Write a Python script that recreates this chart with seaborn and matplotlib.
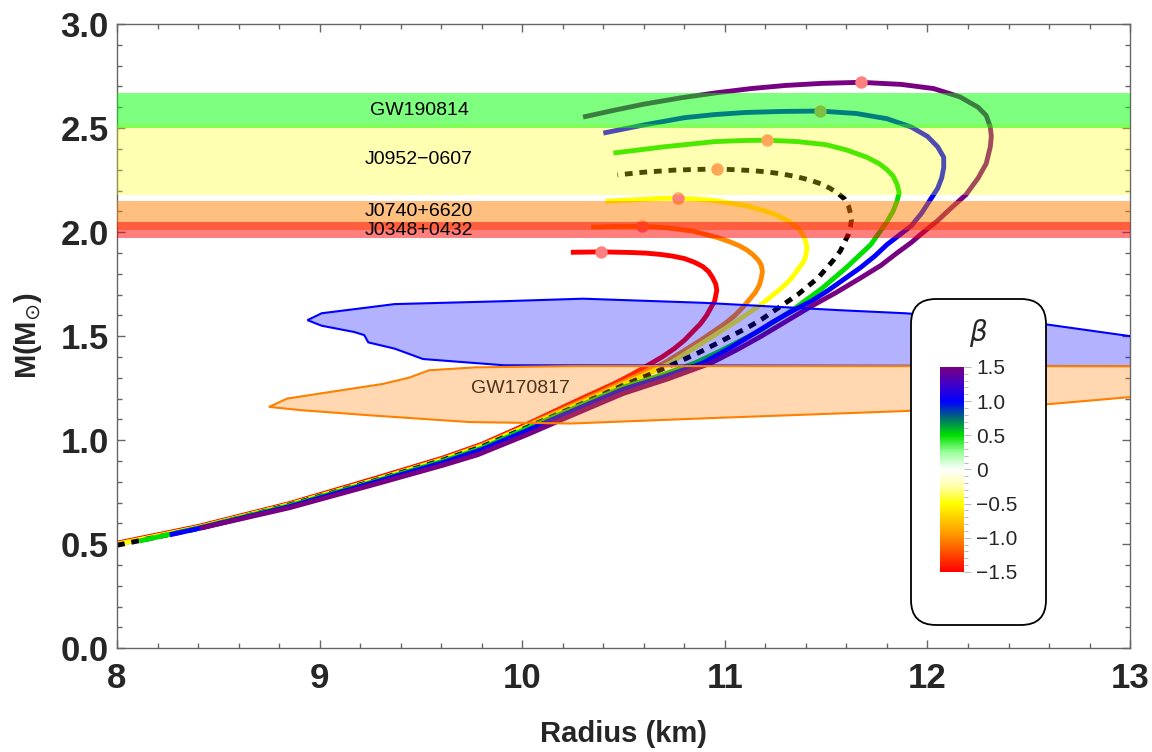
import numpy as np
import pandas as pd
import seaborn as sns
import matplotlib.pyplot as plt
from matplotlib.colors import LinearSegmentedColormap, Normalize
from matplotlib.cm import ScalarMappable
from matplotlib.patches import FancyBboxPatch
from matplotlib.ticker import MultipleLocator

# mass-radius curves, one per beta value
beta_values = [-1.5, -1.0, -0.5, 0.0, 0.5, 1.0, 1.5]

radius_m15 = [8.00, 8.40, 8.85, 9.28, 9.61, 9.80, 10.02, 10.27, 10.45, 10.54, 10.62, 10.69,
              10.75, 10.80, 10.84, 10.88, 10.91, 10.93, 10.95, 10.96, 10.955, 10.94, 10.92,
              10.89, 10.85, 10.80, 10.74, 10.68, 10.61, 10.54, 10.39, 10.24]
mass_m15 = [0.505, 0.585, 0.695, 0.818, 0.915, 0.98, 1.075, 1.19, 1.27, 1.315, 1.36, 1.40,
            1.44, 1.48, 1.52, 1.56, 1.60, 1.635, 1.67, 1.72, 1.75, 1.78, 1.81,
            1.835, 1.855, 1.873, 1.885, 1.893, 1.899, 1.902, 1.905, 1.903]

radius_m10 = [8.00, 8.40, 8.85, 9.28, 9.61, 9.80, 10.02, 10.27, 10.50, 10.60, 10.70, 10.79,
              10.88, 10.94, 11.00, 11.05, 11.09, 11.12, 11.15, 11.17, 11.18, 11.185, 11.18,
              11.165, 11.14, 11.11, 11.07, 11.02, 10.96, 10.90, 10.84, 10.78, 10.72, 10.65,
              10.59, 10.45, 10.34]
mass_m10 = [0.50, 0.58, 0.69, 0.812, 0.91, 0.975, 1.068, 1.178, 1.28, 1.325, 1.37, 1.425,
            1.48, 1.52, 1.56, 1.60, 1.64, 1.675, 1.71, 1.745, 1.78, 1.81, 1.84,
            1.865, 1.89, 1.913, 1.935, 1.955, 1.975, 1.99, 2.005, 2.013, 2.02, 2.025,
            2.028, 2.027, 2.024]

radius_m05 = [8.00, 8.40, 8.85, 9.28, 9.61, 9.80, 10.02, 10.27, 10.50, 10.62, 10.73, 10.82,
              10.91, 10.99, 11.07, 11.13, 11.19, 11.24, 11.29, 11.33, 11.36, 11.39, 11.40,
              11.405, 11.40, 11.39, 11.37, 11.34, 11.31, 11.27, 11.22, 11.16, 11.10, 11.02,
              10.95, 10.86, 10.77, 10.68, 10.60, 10.50, 10.41]
mass_m05 = [0.50, 0.58, 0.69, 0.81, 0.907, 0.97, 1.065, 1.17, 1.27, 1.32, 1.37, 1.425,
            1.48, 1.53, 1.58, 1.62, 1.66, 1.70, 1.74, 1.78, 1.82, 1.86, 1.89,
            1.925, 1.95, 1.98, 2.01, 2.035, 2.055, 2.075, 2.095, 2.112, 2.128, 2.14,
            2.152, 2.159, 2.163, 2.162, 2.158, 2.153, 2.148]

radius_00 = [8.00, 8.40, 8.85, 9.28, 9.61, 9.80, 10.02, 10.27, 10.50, 10.64, 10.78, 10.87,
             10.95, 11.03, 11.11, 11.18, 11.24, 11.30, 11.36, 11.41, 11.46, 11.50, 11.54,
             11.57, 11.59, 11.61, 11.62, 11.625, 11.62, 11.61, 11.59, 11.56, 11.52, 11.48,
             11.42, 11.36, 11.28, 11.21, 11.13, 11.05, 10.96, 10.85, 10.75, 10.60, 10.47]
mass_00 = [0.495, 0.575, 0.688, 0.808, 0.905, 0.968, 1.06, 1.165, 1.265, 1.32, 1.38, 1.42,
           1.46, 1.50, 1.54, 1.58, 1.62, 1.66, 1.70, 1.74, 1.78, 1.825, 1.87,
           1.91, 1.95, 1.99, 2.03, 2.06, 2.09, 2.125, 2.16, 2.185, 2.21, 2.23,
           2.25, 2.265, 2.28, 2.289, 2.296, 2.30, 2.303, 2.301, 2.298, 2.288, 2.275]

radius_p05 = [8.11, 8.40, 8.85, 9.28, 9.61, 9.80, 10.02, 10.27, 10.50, 10.68, 10.85, 10.98,
              11.08, 11.18, 11.26, 11.34, 11.41, 11.48, 11.54, 11.60, 11.66, 11.72, 11.76,
              11.80, 11.83, 11.85, 11.86, 11.85, 11.83, 11.80, 11.76, 11.70, 11.60, 11.50,
              11.36, 11.21, 11.08, 10.95, 10.70, 10.45]
mass_p05 = [0.515, 0.578, 0.685, 0.805, 0.90, 0.962, 1.055, 1.16, 1.255, 1.31, 1.37, 1.43,
            1.48, 1.53, 1.58, 1.63, 1.68, 1.73, 1.78, 1.83, 1.885, 1.94, 1.995,
            2.05, 2.10, 2.15, 2.19, 2.23, 2.27, 2.30, 2.33, 2.36, 2.395, 2.42,
            2.435, 2.442, 2.44, 2.435, 2.41, 2.38]

radius_p10 = [8.26, 8.40, 8.85, 9.28, 9.61, 9.80, 10.02, 10.27, 10.50, 10.70, 10.89, 11.02,
              11.14, 11.24, 11.34, 11.43, 11.51, 11.59, 11.67, 11.74, 11.80, 11.86, 11.92,
              11.97, 12.01, 12.05, 12.07, 12.08, 12.08, 12.05, 12.00, 11.92, 11.80, 11.65,
              11.47, 11.28, 11.10, 10.95, 10.80, 10.60, 10.40]
mass_p10 = [0.545, 0.575, 0.68, 0.80, 0.893, 0.955, 1.045, 1.15, 1.245, 1.305, 1.37, 1.44,
            1.51, 1.57, 1.625, 1.67, 1.72, 1.775, 1.83, 1.885, 1.94, 1.985, 2.03,
            2.09, 2.15, 2.21, 2.26, 2.31, 2.36, 2.41, 2.46, 2.505, 2.545, 2.57,
            2.582, 2.58, 2.575, 2.565, 2.55, 2.515, 2.476]

radius_p15 = [8.41, 8.85, 9.28, 9.61, 9.78, 10.02, 10.27, 10.50, 10.72, 10.93, 11.06, 11.18,
              11.30, 11.42, 11.55, 11.67, 11.77, 11.85, 11.92, 11.98, 12.05, 12.11, 12.19,
              12.25, 12.29, 12.31, 12.315, 12.31, 12.29, 12.25, 12.16, 12.03, 11.87, 11.67,
              11.48, 11.30, 11.13, 10.96, 10.78, 10.60, 10.45, 10.30]
mass_p15 = [0.577, 0.675, 0.79, 0.88, 0.93, 1.025, 1.13, 1.225, 1.295, 1.37, 1.435, 1.50,
            1.57, 1.64, 1.71, 1.78, 1.84, 1.90, 1.95, 2.00, 2.055, 2.11, 2.18,
            2.26, 2.33, 2.41, 2.46, 2.505, 2.56, 2.60, 2.65, 2.69, 2.71, 2.72,
            2.715, 2.705, 2.69, 2.67, 2.645, 2.615, 2.585, 2.553]

curve_radius = [radius_m15, radius_m10, radius_m05, radius_00, radius_p05, radius_p10, radius_p15]
curve_mass = [mass_m15, mass_m10, mass_m05, mass_00, mass_p05, mass_p10, mass_p15]

# maximum mass points
max_radius = [10.39, 10.59, 10.77, 10.96, 11.21, 11.47, 11.67]
max_mass = [1.905, 2.028, 2.163, 2.303, 2.442, 2.582, 2.72]

# observational mass bands
band_names = ['J0952\u22120607', 'GW190814', 'J0740+6620', 'J0348+0432']
band_low = [2.18, 2.50, 2.01, 1.97]
band_high = [2.52, 2.67, 2.15, 2.05]
band_label_mass = [2.35, 2.585, 2.10, 2.01]
band_colors = ['#ffff00', '#00ff00', '#ff8000', '#ff0000']
band_alpha = [0.3, 0.5, 0.5, 0.5]

# NICER-like region (blue) outline
nicer_radius = [8.94, 9.01, 9.37, 9.91, 10.30, 10.90, 11.56, 11.89, 12.56, 13.00, 13.30,
                13.30, 13.00, 9.91, 9.51, 9.37, 9.24, 9.22, 9.17, 9.01]
nicer_mass = [1.577, 1.61, 1.654, 1.668, 1.68, 1.66, 1.625, 1.61, 1.56, 1.50, 1.48,
              1.356, 1.356, 1.36, 1.39, 1.44, 1.47, 1.505, 1.52, 1.55]

# GW170817 region outline
gw170817_radius = [8.75, 8.84, 9.31, 9.44, 9.54, 9.77, 10.24, 13.00, 13.30, 13.30, 13.00,
                   12.56, 11.89, 10.90, 10.24, 9.74, 9.24, 8.91]
gw170817_mass = [1.16, 1.20, 1.27, 1.30, 1.336, 1.35, 1.356, 1.356, 1.356, 1.20, 1.207,
                 1.17, 1.14, 1.105, 1.08, 1.087, 1.12, 1.144]

# long table for seaborn
rows = []
for b, rr, mm in zip(beta_values, curve_radius, curve_mass):
    for i, (r, m) in enumerate(zip(rr, mm)):
        rows.append({'beta': b, 'order': i, 'R': r, 'M': m})
df = pd.DataFrame(rows)

sns.set_style('ticks')
plt.rcParams['font.family'] = ['Liberation Sans', 'DejaVu Sans']

cmap = LinearSegmentedColormap.from_list('beta', [
    (0.0, '#ff0000'), (1/6, '#ff8c00'), (2/6, '#ffff00'), (5/12, '#ffffaa'),
    (0.5, '#ffffff'), (7/12, '#99ff99'), (4/6, '#00e000'), (9/12, '#006e6e'),
    (5/6, '#0000ff'), (11/12, '#4000c8'), (1.0, '#780082')])
norm = Normalize(-1.5, 1.5)

fig = plt.figure(figsize=(11.52, 7.52), dpi=100)
ax = fig.add_axes([0.1016, 0.138, 0.8794, 0.830])

for b in beta_values:
    sub = df[df['beta'] == b].sort_values('order')
    if b == 0.0:
        sns.lineplot(data=sub, x='R', y='M', sort=False, estimator=None, ax=ax,
                     color='black', lw=3.5, linestyle=(0, (1.6, 1.4)), zorder=2, legend=False)
    else:
        sns.lineplot(data=sub, x='R', y='M', sort=False, estimator=None, ax=ax,
                     color=cmap(norm(b)), lw=3.5, solid_capstyle='butt',
                     solid_joinstyle='round', zorder=2, legend=False)

ax.scatter(max_radius, max_mass, s=80, color='#ff8080', zorder=2.5, linewidths=0)

for name, lo, hi, ym, c, a in zip(band_names, band_low, band_high, band_label_mass,
                                   band_colors, band_alpha):
    ax.axhspan(lo, hi, color=c, alpha=a, lw=0, zorder=3)
    ax.text(9.49, ym, name, ha='center', va='center', fontsize=14, color='black', zorder=4)

ax.fill(nicer_radius, nicer_mass, facecolor=(0, 0, 1, 0.3), edgecolor='#0000ff', lw=1.5, zorder=3)
ax.fill(gw170817_radius, gw170817_mass, facecolor=(1, 0.5, 0, 0.3), edgecolor='#ff7f00',
        lw=1.5, zorder=3)
ax.text(9.99, 1.25, 'GW170817', ha='center', va='center', fontsize=14, color='#4d3319', zorder=4)

ax.set_xlim(8, 13)
ax.set_ylim(0, 3)
ax.xaxis.set_major_locator(MultipleLocator(1))
ax.xaxis.set_minor_locator(MultipleLocator(0.2))
ax.yaxis.set_major_locator(MultipleLocator(0.5))
ax.yaxis.set_minor_locator(MultipleLocator(0.1))
ax.set_yticks([0, 0.5, 1, 1.5, 2, 2.5, 3])
ax.set_yticklabels(['0.0', '0.5', '1.0', '1.5', '2.0', '2.5', '3.0'])
ax.tick_params(which='both', direction='in', top=True, right=True, color='#666666', width=1)
ax.tick_params(which='major', length=6, labelsize=25)
ax.tick_params(axis='x', which='major', pad=10)
ax.tick_params(axis='y', which='major', pad=6)
ax.tick_params(which='minor', length=3.5)
for lab in ax.get_xticklabels() + ax.get_yticklabels():
    lab.set_fontweight('bold')
for sp in ax.spines.values():
    sp.set_color('#666666')
    sp.set_linewidth(1)

ax.set_xlabel('Radius (km)', fontsize=21, fontweight='bold')
ax.set_ylabel(r'M(M$_{\odot}$)', fontsize=21, fontweight='bold')
ax.xaxis.set_label_coords(0.5, -0.115)
ax.yaxis.set_label_coords(-0.072, 0.5)

# legend box with colour bar
box = FancyBboxPatch((9.11, 1.27), 1.35, 3.26, boxstyle='round,pad=0,rounding_size=0.25',
                     transform=fig.dpi_scale_trans, facecolor='white', edgecolor='black',
                     lw=1.3, zorder=1.5)
fig.add_artist(box)

cax = fig.add_axes([0.816, 0.2394, 0.0208, 0.2726])
cax.set_zorder(2)
cb = fig.colorbar(ScalarMappable(norm=norm, cmap=cmap), cax=cax)
cb.outline.set_visible(False)
cb.set_ticks([-1.5, -1.0, -0.5, 0, 0.5, 1.0, 1.5])
cb.set_ticklabels(['\u22121.5', '\u22121.0', '\u22120.5', '0', '0.5', '1.0', '1.5'])
cax.yaxis.set_minor_locator(MultipleLocator(0.1))
cax.tick_params(which='both', color='#bbbbbb', width=0.8)
cax.tick_params(which='major', length=5, labelsize=15, pad=4)
cax.tick_params(which='minor', length=3)
fig.text(0.849, 0.557, r'$\beta$', ha='center', va='center', fontsize=20, zorder=3)

fig.savefig('out.png', dpi=100)
